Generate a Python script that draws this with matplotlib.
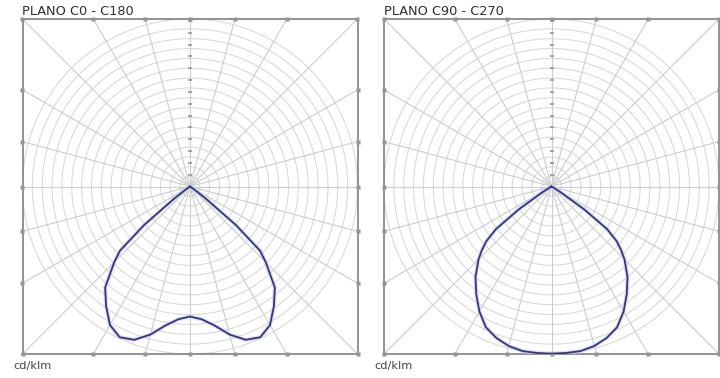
import numpy as np
import matplotlib.pyplot as plt

# Photometric data (cd/klm), gamma measured from the downward vertical.
# Both planes are symmetric, so one half-curve per plane is mirrored.
gamma_deg = [0, 5, 10, 15, 20, 25, 30, 35, 40, 45, 47.5, 50, 52.5, 55, 57.5,
             60, 65, 70, 80, 90]
i_c0_c180 = [330, 338, 358, 389, 414, 422, 406, 371, 335, 272, 241, 152, 51,
             13, 0, 0, 0, 0, 0, 0]
i_c90_c270 = [424, 424, 424, 419, 409, 394, 366, 333, 300, 262, 240, 216, 178,
              102, 30, 8, 0, 0, 0, 0]

panel_titles = ["PLANO C0 - C180", "PLANO C90 - C270"]
unit_label = "cd/klm"

ring_step = 25          # concentric grid circles
ring_count = 17
scale_step = 30         # scale marks on the upper vertical axis
scale_count = 14
radial_step_deg = 15

W, H = 720, 378
fig = plt.figure(figsize=(W / 100, H / 100), dpi=100)

ring_col = "#dadada"
radial_col = "#cdcdcd"
frame_col = "#808080"
curve_col = "#363678"

boxes = [(22.5, 19, 335, 335), (384, 19, 335, 335)]
curves = [i_c0_c180, i_c90_c270]

lim = ring_step * ring_count

for (bx, by, bw, bh), title, values in zip(boxes, panel_titles, curves):
    ax = fig.add_axes([bx / W, 1 - (by + bh) / H, bw / W, bh / H])
    ax.set_xlim(-lim, lim)
    ax.set_ylim(-lim, lim)
    ax.set_aspect("equal", adjustable="box")
    ax.set_xticks([])
    ax.set_yticks([])
    for s in ax.spines.values():
        s.set_color(frame_col)
        s.set_linewidth(1.2)

    # concentric rings
    t = np.linspace(0, 2 * np.pi, 361)
    for k in range(1, ring_count + 1):
        r = k * ring_step
        ax.plot(r * np.cos(t), r * np.sin(t), color=ring_col, lw=0.8, zorder=1)

    # radial lines out to the frame, with small marks where they meet it
    for a in np.arange(0, 360, radial_step_deg):
        th = np.deg2rad(a)
        sx, cy = np.sin(th), np.cos(th)
        ext = lim / max(abs(sx), abs(cy))
        ax.plot([0, ext * sx], [0, ext * cy], color=radial_col, lw=0.8, zorder=1)
        ax.plot(ext * sx, ext * cy, marker="s", ms=2.2, color="#959595",
                mec="none", clip_on=False, zorder=3)

    # scale marks on the upper vertical axis
    marks = np.arange(1, scale_count + 1) * scale_step
    ax.plot(np.zeros_like(marks), marks, ls="none", marker="_", ms=3.0,
            mew=1.4, color="#a2a2a2", zorder=2)

    # intensity curve: C180/C270 half on the left, C0/C90 half on the right
    g = np.deg2rad(np.array(gamma_deg, dtype=float))
    v = np.array(values, dtype=float)
    xs = np.concatenate([-(v * np.sin(g))[::-1], (v * np.sin(g))[1:]])
    ys = np.concatenate([-(v * np.cos(g))[::-1], -(v * np.cos(g))[1:]])
    ax.plot(xs, ys, color="#cfcfee", lw=3.0, alpha=0.7, zorder=4,
            solid_joinstyle="round")
    ax.plot(xs, ys, color=curve_col, lw=1.3, zorder=5, solid_joinstyle="round")

    fig.text(bx / W, 1 - 11.5 / H, title, fontsize=9.3, color="#2e2e2e",
             ha="left", va="center", family="DejaVu Sans")
    fig.text((bx - 9.5) / W, 1 - 366 / H, unit_label, fontsize=8.2,
             color="#444444", ha="left", va="center", family="DejaVu Sans")

fig.savefig("out.png", dpi=100, facecolor="white")
